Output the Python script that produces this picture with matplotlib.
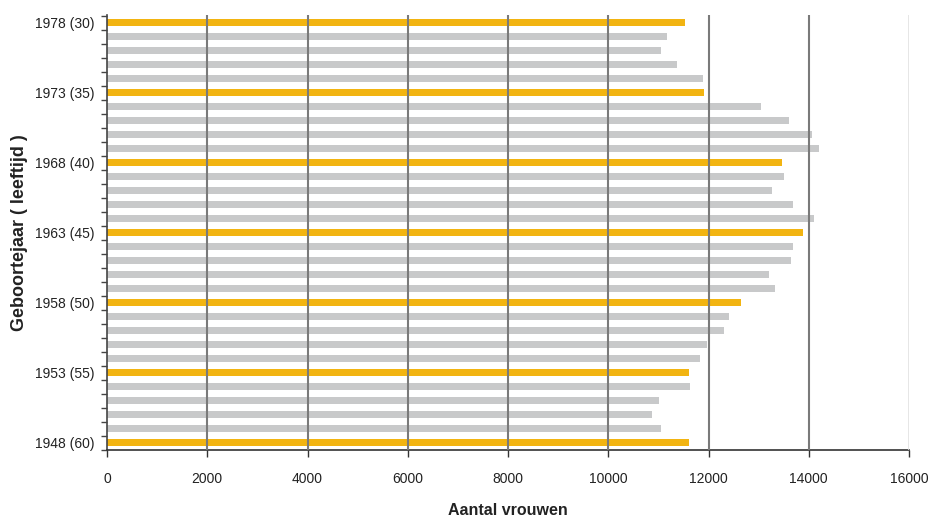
import matplotlib
matplotlib.use("Agg")
import matplotlib.pyplot as plt
import numpy as np

years = list(range(1948, 1979))
values = [11610, 11050, 10870, 11010, 11630, 11610, 11830, 11970, 12310, 12410,
          12650, 13330, 13205, 13645, 13690, 13885, 14105, 13690, 13270, 13505,
          13470, 14205, 14065, 13610, 13050, 11910, 11890, 11370, 11050, 11170, 11530]
highlight_years = [1948, 1953, 1958, 1963, 1968, 1973, 1978]
tick_labels = ["1948 (60)", "1953 (55)", "1958 (50)", "1963 (45)", "1968 (40)", "1973 (35)", "1978 (30)"]
x_ticks = [0, 2000, 4000, 6000, 8000, 10000, 12000, 14000, 16000]

plt.rcParams['font.family'] = ['Liberation Sans', 'DejaVu Sans']

fig = plt.figure(figsize=(9.31, 5.19), dpi=100)
ax = fig.add_axes([107/931, 1-450/519, (909-107)/931, (450-15)/519])

orange = '#F2B411'
gray = '#C8C9CA'
pos = np.arange(len(years))
colors = [orange if y in highlight_years else gray for y in years]
ax.barh(pos, values, height=0.5, color=colors, zorder=2)

for xv in x_ticks[1:-1]:
    ax.axvline(xv, color='#7a7a7a', lw=1.5, zorder=3)
ax.axvline(x_ticks[-1], color='#e2e2e2', lw=1.2, zorder=3)

ax.set_xlim(0, 16000)
ax.set_ylim(-0.5, 30.57)
ax.set_xticks(x_ticks)
ax.set_xticklabels([str(v) for v in x_ticks], fontsize=10, color='#222222')
ax.set_yticks([years.index(y) for y in highlight_years])
ax.set_yticklabels(tick_labels, fontsize=10, color='#222222')
ax.set_yticks(np.arange(-0.5, len(years), 1.0), minor=True)

ax.tick_params(axis='y', which='major', length=0, pad=9)
ax.tick_params(axis='y', which='minor', length=4, width=1, color='#444444', direction='out')
ax.tick_params(axis='x', which='major', length=5, width=1, color='#333333', pad=11)

for s in ['top', 'right']:
    ax.spines[s].set_visible(False)
ax.spines['left'].set_color('#444444')
ax.spines['bottom'].set_color('#333333')
ax.spines['left'].set_linewidth(1.2)
ax.spines['bottom'].set_linewidth(1.2)

ax.set_xlabel('Aantal vrouwen', fontsize=11.5, fontweight='bold', color='#222222', labelpad=12)
ax.set_ylabel('Geboortejaar ( leeftijd )', fontsize=13, fontweight='bold', color='#222222', labelpad=5)

fig.savefig('out.png', dpi=100)
